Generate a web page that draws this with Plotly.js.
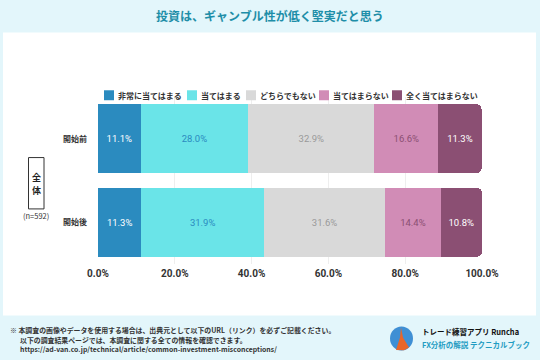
<!DOCTYPE html>
<html><head><meta charset="utf-8">
<script src="https://cdn.plot.ly/plotly-3.0.1.min.js"></script>
<style>html,body{margin:0;padding:0;background:#e3f6fb;}#chart{width:540px;height:360px;}</style>
</head><body><div id="chart"></div>
<script>
const categories = ['開始前', '開始後'];
const seriesNames = ['非常に当てはまる', '当てはまる', 'どちらでもない', '当てはまらない', '全く当てはまらない'];
const veryTrue = [11.1, 11.3];
const somewhatTrue = [28.0, 31.9];
const neutral = [32.9, 31.6];
const notTrue = [16.6, 14.4];
const notAtAll = [11.3, 10.8];
const seriesValues = [veryTrue, somewhatTrue, neutral, notTrue, notAtAll];
const xTickVals = [0, 20, 40, 60, 80, 100];
const xTickText = ['0.0%', '20.0%', '40.0%', '60.0%', '80.0%', '100.0%'];
const titleText = '投資は、ギャンブル性が低く堅実だと思う';
const groupChars = ['全', '体'];
const sampleLabel = '(n=592)';
const footLines = ['※ 本調査の画像やデータを使用する場合は、出典元として以下のURL（リンク）を必ずご記載ください。',
  '以下の調査結果ページでは、本調査に関する全ての情報を確認できます。',
  'https://ad-van.co.jp/technical/article/common-investment-misconceptions/'];
const brand1 = 'トレード練習アプリ Runcha';
const brand2 = 'FX分析の解説 テクニカルブック';

const colors = ['#2b8bbf', '#6ae4e8', '#d9d9d9', '#d18cb6', '#8b4f73'];
const textColors = ['#ffffff', '#2b8bbf', '#9a9a9a', '#8b4f73', '#ffffff'];
const FONT = '"Noto Sans CJK JP", "Noto Sans", sans-serif';

const PL = 98, PR = 482, PT = 96.75, PB = 264.25;
const W = PR - PL, H = PB - PT;
const px = x => (x - PL) / W;
const py = y => (PB - y) / H;

const traces = seriesNames.map((name, i) => ({
  type: 'bar', orientation: 'h', name: name,
  y: categories, x: seriesValues[i],
  marker: {color: colors[i], line: {width: 0}},
  texttemplate: '%{x:.1f}%', textposition: 'inside', insidetextanchor: 'middle',
  textfont: {family: 'Roboto, "Noto Sans", sans-serif', size: 9.5, color: textColors[i]},
  constraintext: 'none', hoverinfo: 'skip', showlegend: false
}));

const shapes = [
  {type: 'rect', xref: 'paper', yref: 'paper', layer: 'below',
   x0: px(3), x1: px(536), y0: py(316), y1: py(32), fillcolor: '#ffffff', line: {width: 0}},
  {type: 'rect', xref: 'paper', yref: 'paper', layer: 'above',
   x0: px(28.5), x1: px(44), y0: py(209), y1: py(157.5), fillcolor: 'rgba(0,0,0,0)', line: {width: 1, color: '#333'}},
  {type: 'circle', xref: 'paper', yref: 'paper', layer: 'above',
   x0: px(390), x1: px(413), y0: py(351), y1: py(327), fillcolor: '#3f8fd4', line: {width: 0}},
  {type: 'path', xref: 'paper', yref: 'paper', layer: 'above',
   path: 'M ' + px(396) + ' ' + py(350.5) + ' L ' + px(400) + ' ' + py(338) + ' L ' + px(401) + ' ' + py(328) + ' L ' + px(403) + ' ' + py(338) + ' L ' + px(409) + ' ' + py(348) + ' L ' + px(404) + ' ' + py(350.8) + ' Z',
   fillcolor: '#e8662a', line: {width: 0}}
];

const annotations = [
  {text: '<b>' + titleText + '</b>', xref: 'paper', yref: 'paper', x: px(270), y: py(15), showarrow: false,
   font: {family: FONT, size: 12, color: '#1e8ea8'}, xanchor: 'center', yanchor: 'middle'},
  {text: '<b>' + groupChars[0] + '</b>', xref: 'paper', yref: 'paper', x: px(36.2), y: py(177), showarrow: false,
   font: {family: FONT, size: 9, color: '#222'}, xanchor: 'center', yanchor: 'middle'},
  {text: '<b>' + groupChars[1] + '</b>', xref: 'paper', yref: 'paper', x: px(36.2), y: py(191), showarrow: false,
   font: {family: FONT, size: 9, color: '#222'}, xanchor: 'center', yanchor: 'middle'},
  {text: sampleLabel, xref: 'paper', yref: 'paper', x: px(36), y: py(216), showarrow: false,
   font: {family: FONT, size: 7.5, color: '#333'}, xanchor: 'center', yanchor: 'middle'},
  {text: '<b>' + brand1 + '</b>', xref: 'paper', yref: 'paper', x: px(420), y: py(332), showarrow: false,
   font: {family: FONT, size: 7.5, color: '#111'}, xanchor: 'left', yanchor: 'middle'},
  {text: '<b>' + brand2 + '</b>', xref: 'paper', yref: 'paper', x: px(420), y: py(345), showarrow: false,
   font: {family: FONT, size: 7.5, color: '#1f9cc2'}, xanchor: 'left', yanchor: 'middle'}
];
footLines.forEach((t, i) => {
  annotations.push({text: '<b>' + t + '</b>', xref: 'paper', yref: 'paper', x: px(i === 0 ? 8 : 18), y: py(330 + i * 10),
    showarrow: false, font: {family: FONT, size: 6.9, color: '#333'}, xanchor: 'left', yanchor: 'middle'});
});
const legSq = [104, 187, 246, 319, 392];
seriesNames.forEach((n, i) => {
  shapes.push({type: 'rect', xref: 'paper', yref: 'paper', x0: px(legSq[i]), x1: px(legSq[i] + 10),
    y0: py(100), y1: py(90), fillcolor: colors[i], line: {width: 0}});
  annotations.push({text: '<b>' + n + '</b>', xref: 'paper', yref: 'paper', x: px(legSq[i] + 12), y: py(95),
    showarrow: false, font: {family: FONT, size: 8, color: '#333'}, xanchor: 'left', yanchor: 'middle'});
});

const layout = {
  width: 540, height: 360,
  margin: {l: PL, r: 540 - PR, t: PT, b: 360 - PB, pad: 0},
  paper_bgcolor: '#e3f6fb', plot_bgcolor: 'rgba(0,0,0,0)',
  barmode: 'stack', bargap: 0.174, barcornerradius: 5,
  showlegend: false,
  xaxis: {range: [0, 100], tickvals: xTickVals, ticktext: xTickText, showgrid: true, gridcolor: '#eeeeee',
    zeroline: false, showline: false, ticks: '', ticklabelstandoff: 2,
    tickfont: {family: 'Roboto, "Noto Sans", sans-serif', size: 10, color: '#333', weight: 'bold'}, fixedrange: true},
  yaxis: {autorange: 'reversed', showgrid: false, zeroline: false, showline: false, ticks: '', ticklabelstandoff: 10,
    tickfont: {family: FONT, size: 8, color: '#333', weight: 'bold'}, fixedrange: true},
  shapes: shapes, annotations: annotations,
  font: {family: FONT}
};
Plotly.newPlot('chart', traces, layout, {displayModeBar: false, staticPlot: true});
</script></body></html>
